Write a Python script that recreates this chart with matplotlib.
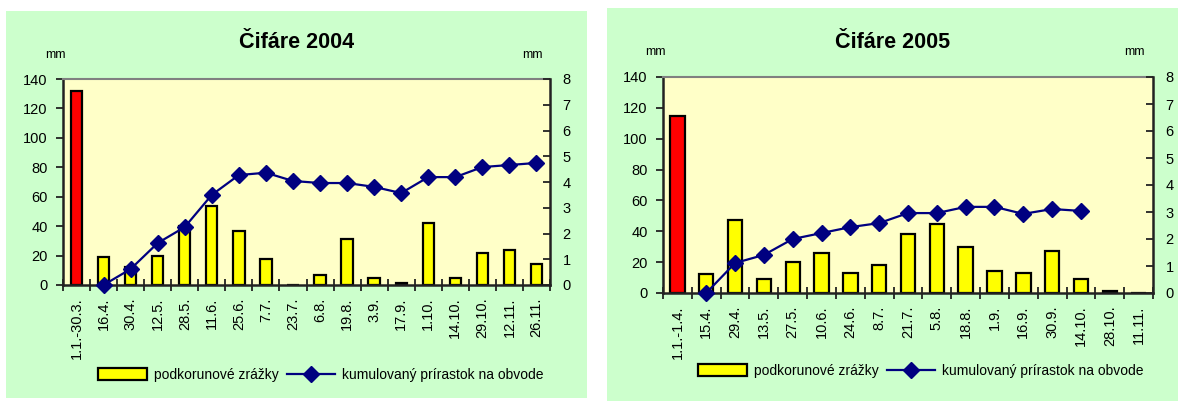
import numpy as np
import matplotlib
matplotlib.use("Agg")
import matplotlib.pyplot as plt
from matplotlib.patches import Rectangle, Patch
from matplotlib.lines import Line2D

plt.rcParams['font.family'] = ['Liberation Sans', 'DejaVu Sans']

# ---------------- data ----------------
cats_2004 = ["1.1.-30.3.", "16.4.", "30.4.", "12.5.", "28.5.", "11.6.", "25.6.", "7.7.",
             "23.7.", "6.8.", "19.8.", "3.9.", "17.9.", "1.10.", "14.10.", "29.10.",
             "12.11.", "26.11."]
rain_2004 = [132, 19, 12, 20, 40, 54, 37, 18, 0, 7, 31, 5, 1.5, 42, 5, 22, 24, 14]
growth_2004 = [np.nan, 0.0, 0.62, 1.63, 2.25, 3.5, 4.27, 4.36, 4.04, 3.96, 3.96, 3.81,
               3.57, 4.19, 4.19, 4.58, 4.66, 4.74]

cats_2005 = ["1.1.-1.4.", "15.4.", "29.4.", "13.5.", "27.5.", "10.6.", "24.6.", "8.7.",
             "21.7.", "5.8.", "18.8.", "1.9.", "16.9.", "30.9.", "14.10.", "28.10.", "11.11."]
rain_2005 = [115, 12, 47, 9, 20, 26, 13, 18, 38, 45, 30, 14, 13, 27, 9, 1.2, 0]
growth_2005 = [np.nan, 0.0, 1.11, 1.41, 2.0, 2.22, 2.44, 2.59, 2.96, 2.96, 3.19, 3.19,
               2.93, 3.11, 3.04, np.nan, np.nan]

titles = ["Čifáre 2004", "Čifáre 2005"]
bar_label = "podkorunové zrážky"
line_label = "kumulovaný prírastok na obvode"

# ---------------- layout ----------------
W, H = 1178, 401
fig = plt.figure(figsize=(W / 100, H / 100), dpi=100, facecolor="white")

GREEN = "#CCFFCC"
PLOT_BG = "#FFFFC8"
NAVY = "#000080"

def fx(px):
    return px / W

def fy(py):
    return 1 - py / H

panels = [
    dict(box=(6, 11, 587, 398), ax=(63, 79, 550, 285), cats=cats_2004, rain=rain_2004,
         growth=growth_2004, title=titles[0], bw=0.42, legend=(321, 375),
         mmL=(55, 55), mmR=(532, 55)),
    dict(box=(607, 8, 1178, 401), ax=(663, 77, 1153, 293), cats=cats_2005, rain=rain_2005,
         growth=growth_2005, title=titles[1], bw=0.5, legend=(921, 371),
         mmL=(655, 52), mmR=(1134, 52)),
]

for p in panels:
    x0, y0, x1, y1 = p["box"]
    fig.patches.append(Rectangle((fx(x0), fy(y1)), fx(x1) - fx(x0), fy(y0) - fy(y1),
                                 transform=fig.transFigure, facecolor=GREEN,
                                 edgecolor="none", zorder=-5))
    ax0, ay0, ax1, ay1 = p["ax"]
    ax = fig.add_axes([fx(ax0), fy(ay1), fx(ax1) - fx(ax0), fy(ay0) - fy(ay1)])
    ax.set_facecolor(PLOT_BG)
    n = len(p["cats"])
    x = np.arange(n)
    colors = ["#FF0000"] + ["#FFFF00"] * (n - 1)
    ax.bar(x, p["rain"], width=p["bw"], color=colors, edgecolor="black",
           linewidth=1.6, zorder=2)
    ax.set_xlim(-0.5, n - 0.5)
    ax.set_ylim(0, 140)
    ax.set_yticks(np.arange(0, 141, 20))
    ax.set_xticks(x)
    ax.set_xticklabels(p["cats"], rotation=90, fontsize=10.5)
    ax.set_xticks(np.arange(-0.5, n, 1.0), minor=True)
    ax.tick_params(axis="x", which="major", length=0, pad=9)
    ax.tick_params(axis="x", which="minor", direction="inout", length=8, width=1.3,
                   color="#222222")
    ax.tick_params(axis="y", direction="out", length=5, width=1.3, labelsize=10.5,
                   pad=6, color="#222222")
    for s in ["left", "bottom"]:
        ax.spines[s].set_color("#222222")
        ax.spines[s].set_linewidth(1.8)
    ax.spines["top"].set_color("#808080")
    ax.spines["top"].set_linewidth(1.5)
    ax.spines["right"].set_visible(False)

    ax2 = ax.twinx()
    ax2.plot(x, p["growth"], color=NAVY, linewidth=1.6, marker="D", markersize=8,
             markerfacecolor=NAVY, markeredgecolor=NAVY, zorder=3, clip_on=False)
    ax2.set_ylim(0, 8)
    ax2.set_yticks(np.arange(0, 9, 1))
    ax2.tick_params(axis="y", direction="in", length=5, width=1.3, labelsize=10.5,
                    pad=9, color="#222222")
    for s in ["left", "top", "bottom"]:
        ax2.spines[s].set_visible(False)
    ax2.spines["right"].set_color("#222222")
    ax2.spines["right"].set_linewidth(1.8)

    bx = (x0 + x1) / 2
    fig.text(fx(bx), fy(42), p["title"], ha="center", va="center", fontsize=15.5,
             fontweight="bold")
    fig.text(fx(p["mmL"][0]), fy(p["mmL"][1]), "mm", ha="center", va="center", fontsize=9)
    fig.text(fx(p["mmR"][0]), fy(p["mmR"][1]), "mm", ha="center", va="center", fontsize=9)

    handles = [Patch(facecolor="#FFFF00", edgecolor="black", linewidth=1.6),
               Line2D([], [], color=NAVY, linewidth=1.6, marker="D", markersize=8,
                      markerfacecolor=NAVY, markeredgecolor=NAVY)]
    fig.legend(handles, [bar_label, line_label], loc="center",
               bbox_to_anchor=(fx(p["legend"][0]), fy(p["legend"][1])), ncol=2,
               frameon=False, fontsize=10, handlelength=3.5, handleheight=0.9,
               handletextpad=0.5, columnspacing=0.6, borderpad=0, borderaxespad=0)

fig.savefig("out.png", dpi=100, facecolor="white")
